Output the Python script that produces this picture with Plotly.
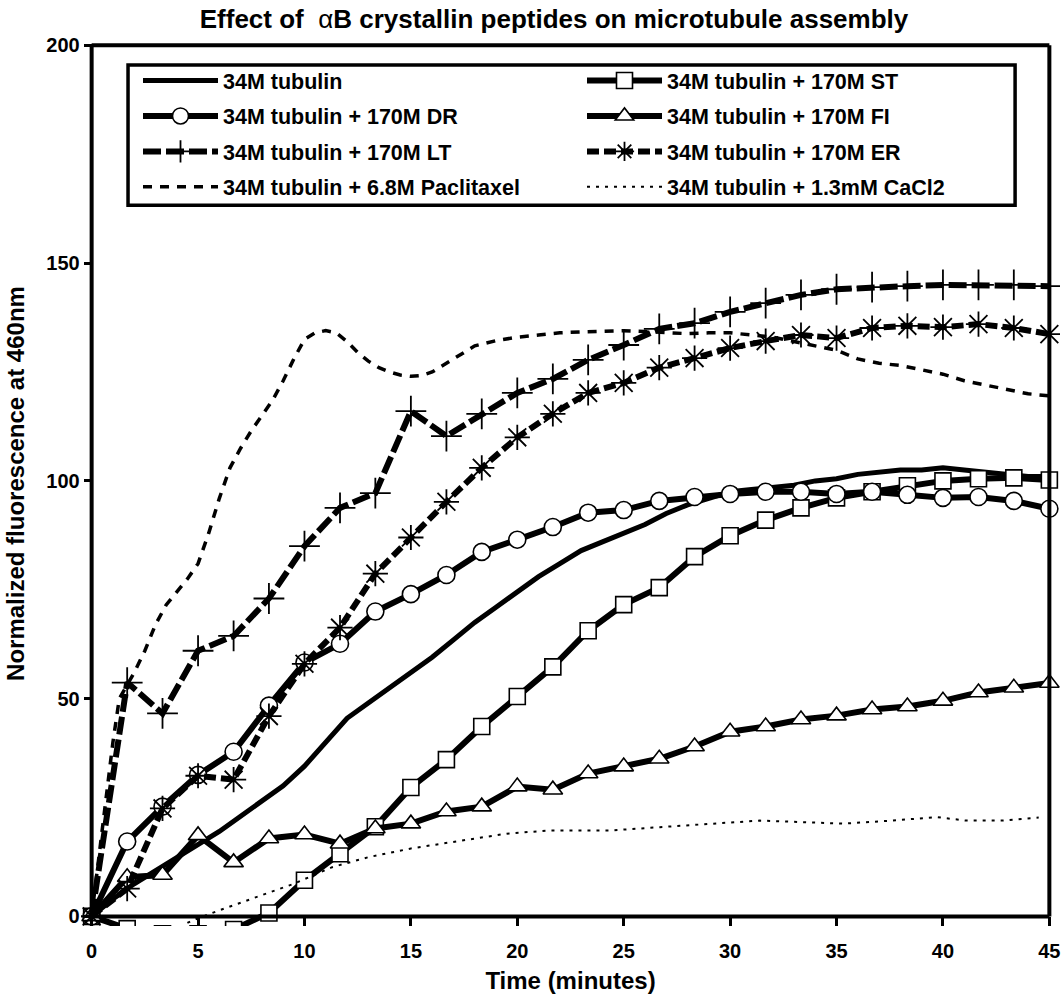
import plotly.graph_objects as go

# ---------------- data ----------------
time_marked = [0, 1.67, 3.33, 5, 6.67, 8.33, 10, 11.67, 13.33, 15, 16.67, 18.33, 20, 21.67,
               23.33, 25, 26.67, 28.33, 30, 31.67, 33.33, 35, 36.67, 38.33, 40, 41.67, 43.33, 45]
st_vals = [0, -2.8, -4, -4, -3, 0.8, 8.3, 14.4, 20.6, 29.6, 36, 43.6, 50.5, 57.3,
           65.6, 71.6, 75.5, 82.6, 87.4, 91, 93.8, 96.1, 97.5, 98.9, 100, 100.5, 100.7, 100.2]
dr_vals = [0, 17.2, 25.2, 32.5, 37.8, 48.4, 58.3, 62.6, 70, 74, 78.4, 83.7, 86.5, 89.4,
           92.7, 93.3, 95.4, 96.3, 97, 97.5, 97.5, 97, 97.5, 96.8, 96.1, 96.3, 95.4, 93.6]
fi_vals = [0, 9, 9.5, 18.6, 12.4, 17.9, 18.8, 16.7, 20.2, 21.3, 24.1, 25.2, 29.8, 29.1,
           32.8, 34.4, 36.2, 39, 42.4, 43.6, 45.2, 46.1, 47.5, 48.2, 49.5, 51.4, 52.5, 53.6]
lt_vals = [0, 53.7, 46.6, 61, 64.4, 73, 85, 93.8, 97.2, 116, 110.3, 115.4, 120.2, 123.4,
           127.8, 131.2, 134.9, 136.2, 138.8, 140.8, 142.7, 144, 144.5, 144.7, 145, 145, 145, 144.7]
er_vals = [0, 6.4, 24.8, 32.3, 31.4, 46, 58, 66.3, 78.7, 87, 95.2, 103, 110, 115.4,
           120.2, 122.5, 126, 128.2, 130.5, 132.1, 133.5, 132.8, 135.1, 135.6, 135.3, 136, 135.1, 133.7]

tub_time = [0, 1, 2, 3, 4, 5, 6, 7, 8, 9, 10, 11, 12, 13, 14, 15, 16, 17, 18, 19, 20, 21, 22,
            23, 24, 25, 26, 27, 28, 29, 30, 31, 32, 33, 34, 35, 36, 37, 38, 39, 40, 41, 42, 43, 44, 45]
tub_vals = [0, 4, 7.5, 10.5, 13.5, 16.5, 19.5, 23, 26.5, 30, 34.5, 40, 45.5, 49, 52.5, 56, 59.5,
            63.5, 67.5, 71, 74.5, 78, 81, 84, 86, 88, 90, 92.5, 94.5, 96, 97.5, 98, 98.5, 99,
            100, 100.5, 101.5, 102, 102.5, 102.5, 103, 102.5, 102, 101.5, 101, 101]

pac_time = [0, 0.5, 1, 1.3, 2, 2.5, 3, 3.5, 4, 4.5, 5, 5.5, 6, 6.5, 7, 7.5, 8, 8.5, 9, 9.5, 10,
            10.5, 11, 11.5, 12, 12.5, 13, 13.5, 14, 14.5, 15, 15.5, 16, 17, 18, 19, 20, 21, 22,
            23, 24, 25, 26, 27, 28, 29, 30, 31, 32, 33, 34, 35, 36, 37, 38, 39, 40, 41, 42, 43, 44, 45]
pac_vals = [0, 20, 40, 50, 56, 61, 67, 71.5, 74.5, 77.5, 81, 88, 96, 103, 107.5, 111.5, 115,
            118.5, 123, 128, 132.5, 134, 134.5, 134, 132, 129.5, 127.5, 126, 125, 124.3, 124,
            124.2, 125, 128, 131, 132.2, 133, 133.5, 134, 134.2, 134.4, 134.5, 134.3, 134, 133.8,
            134, 134, 133.5, 133, 132, 131, 130, 128, 127, 126.5, 125.5, 124.5, 123, 122, 121, 120, 119.5]

ca_time = [4.5, 4.75, 6, 7.7, 9.5, 11.3, 13, 15, 17.4, 19.5, 21.4, 23, 24.3, 26.7, 29, 31.4,
           33.7, 35.3, 37.6, 39.7, 41.1, 42.8, 44.5]
ca_vals = [-1.5, -0.9, 1.4, 4.4, 7.5, 11.3, 13.6, 15.6, 17.4, 19, 19.7, 19.7, 19.7, 20.5, 21.3,
           22, 21.6, 21.3, 22, 22.8, 22, 22, 22.7]

x_ticks = [0, 5, 10, 15, 20, 25, 30, 35, 40, 45]
y_ticks = [0, 50, 100, 150, 200]

names = ["34M tubulin", "34M tubulin + 170M ST", "34M tubulin + 170M DR", "34M tubulin + 170M FI",
         "34M tubulin + 170M LT", "34M tubulin + 170M ER", "34M tubulin + 6.8M Paclitaxel",
         "34M tubulin + 1.3mM CaCl2"]

# ---------------- figure ----------------
FONT = "Liberation Sans, Arial, sans-serif"
X_MIN, X_MAX = -0.5, 45.5
Y_MIN, Y_MAX = -2.2, 201

fig = go.Figure()

def mk(symbol, size, lw=1.6):
    return dict(symbol=symbol, size=size, color="white", line=dict(color="black", width=lw))

fig.add_trace(go.Scatter(x=tub_time, y=tub_vals, mode="lines", name=names[0],
                         line=dict(color="black", width=5), legend="legend", legendgroup="a"))
fig.add_trace(go.Scatter(x=time_marked, y=st_vals, mode="lines+markers", name=names[1],
                         line=dict(color="black", width=6), marker=mk("square", 16),
                         legend="legend2", legendgroup="b"))
fig.add_trace(go.Scatter(x=time_marked, y=dr_vals, mode="lines+markers", name=names[2],
                         line=dict(color="black", width=6), marker=mk("circle", 17),
                         legend="legend", legendgroup="c"))
fig.add_trace(go.Scatter(x=time_marked, y=fi_vals, mode="lines+markers", name=names[3],
                         line=dict(color="black", width=6), marker=mk("triangle-up", 17),
                         legend="legend2", legendgroup="d"))
fig.add_trace(go.Scatter(x=time_marked, y=lt_vals, mode="lines+markers", name=names[4],
                         line=dict(color="black", width=6, dash="18px,5px"),
                         marker=dict(symbol="cross-thin-open", size=22, color="black",
                                     line=dict(color="black", width=1.8)),
                         legend="legend", legendgroup="e"))
fig.add_trace(go.Scatter(x=time_marked, y=er_vals, mode="lines+markers", name=names[5],
                         line=dict(color="black", width=6, dash="12px,5px"),
                         marker=dict(symbol="asterisk-open", size=21, color="black",
                                     line=dict(color="black", width=1.8)),
                         legend="legend2", legendgroup="f"))
fig.add_trace(go.Scatter(x=pac_time, y=pac_vals, mode="lines", name=names[6],
                         line=dict(color="black", width=3.5, dash="9px,8px"),
                         legend="legend", legendgroup="g"))
fig.add_trace(go.Scatter(x=ca_time, y=ca_vals, mode="lines", name=names[7],
                         line=dict(color="black", width=2, dash="3px,6px"),
                         legend="legend2", legendgroup="h"))

# frame & legend box as shapes in data coordinates
frame = dict(color="black", width=4)
fig.add_shape(type="line", x0=0, x1=45, y0=0, y1=0, line=frame, layer="above")
fig.add_shape(type="line", x0=0, x1=0, y0=0, y1=200, line=frame, layer="above")
fig.add_shape(type="line", x0=0, x1=45, y0=200, y1=200, line=frame, layer="above")
fig.add_shape(type="line", x0=45, x1=45, y0=0, y1=200, line=frame, layer="above")
fig.add_shape(type="rect", x0=1.71, x1=43.39, y0=163.3, y1=195.5,
              line=dict(color="black", width=3.5), layer="above")

L, R, T, B = 81, 3, 41, 68
W, H = 1063, 994
PW, PH = W - L - R, H - T - B

legend_common = dict(bgcolor="rgba(0,0,0,0)", borderwidth=0, itemwidth=75,
                     font=dict(family=FONT, size=21.5, color="black", weight="bold"),
                     tracegroupgap=4.5, xanchor="left", yanchor="top", traceorder="grouped",
                     itemclick=False)
fig.update_layout(
    width=W, height=H,
    margin=dict(l=L, r=R, t=T, b=B, autoexpand=False),
    paper_bgcolor="white", plot_bgcolor="white",
    font=dict(family=FONT, color="black"),
    hovermode=False,
    title=dict(text="<b>Effect of&nbsp; </b>α<b>B crystallin peptides on microtubule assembly</b>",
               x=554 / W, xanchor="center", y=1 - 19 / H, yanchor="middle",
               font=dict(family=FONT, size=26, color="black")),
    legend=dict(x=(138 - L) / PW, y=1 - (60 - T) / PH, **legend_common),
    legend2=dict(x=(582 - L) / PW, y=1 - (60 - T) / PH, **legend_common),
    xaxis=dict(range=[X_MIN, X_MAX], tickvals=x_ticks, showgrid=False, zeroline=False,
               showline=False, ticks="outside", ticklen=9, tickwidth=3, tickcolor="black",
               anchor="free", position=(0 - Y_MIN) / (Y_MAX - Y_MIN), automargin=False,
               tickfont=dict(family=FONT, size=20, color="black", weight="bold"),
               ticklabelstandoff=8,
               title=dict(text="Time (minutes)", standoff=10,
                          font=dict(family=FONT, size=24, color="black", weight="bold"))),
    yaxis=dict(range=[Y_MIN, Y_MAX], tickvals=y_ticks, showgrid=False, zeroline=False,
               showline=False, ticks="outside", ticklen=8, tickwidth=3, tickcolor="black",
               anchor="free", position=(0 - X_MIN) / (X_MAX - X_MIN), automargin=False,
               tickfont=dict(family=FONT, size=20, color="black", weight="bold"),
               title=dict(text="Normalized fluorescence at 460nm", standoff=13,
                          font=dict(family=FONT, size=24, color="black", weight="bold"))),
)

fig.write_html("out.html", config={"displayModeBar": False, "staticPlot": True},
               post_script="document.body.style.margin='0';document.body.style.overflow='hidden';")
